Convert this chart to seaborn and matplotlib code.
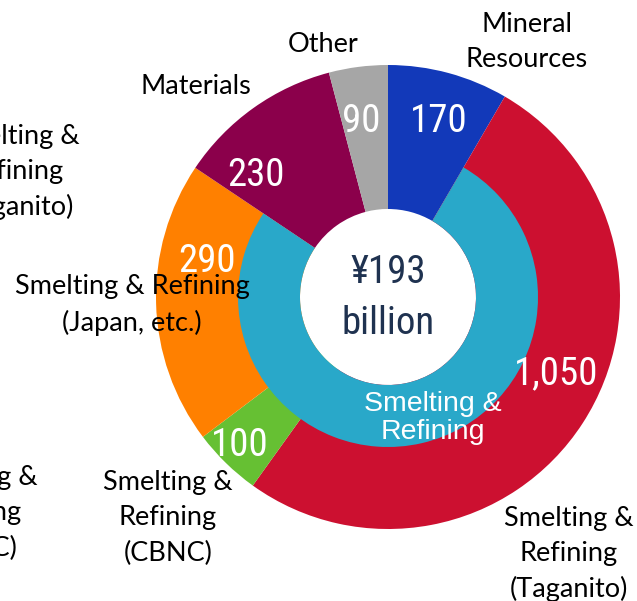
import matplotlib
matplotlib.use("Agg")
import matplotlib.pyplot as plt
from matplotlib import font_manager as fm
import seaborn as sns

# ---- data ----
segments = ["Mineral Resources", "Smelting & Refining (Taganito)",
            "Smelting & Refining (CBNC)", "Smelting & Refining (Japan, etc.)",
            "Materials", "Other"]
value_labels = ["170", "1,050", "100", "290", "230", "90"]
# share of the circle each sector occupies in the picture (%)
sector_share = [8.4, 51.5, 4.8, 19.7, 11.5, 4.1]
inner_groups = ["Mineral Resources", "Smelting & Refining", "Materials + Other"]
inner_share = [8.4, 76.0, 15.6]
total_label = "¥193\nbillion"

colors = ["#1239B9", "#CC1030", "#66C033", "#FF8000", "#8B004B", "#A6A6A6"]
teal = "#29A8C9"

sns.set_theme(style="white")
plt.rcParams["font.family"] = ["Lato", "DejaVu Sans"]

names = {f.name for f in fm.fontManager.ttflist}
cond = "Roboto"
for n in ["Roboto Condensed", "Liberation Sans Narrow", "Arial Narrow", "Open Sans Condensed"]:
    if n in names:
        cond = n
        break

W, H = 637, 601
fig = plt.figure(figsize=(W / 100, H / 100), dpi=100)
ax = fig.add_axes([0, 0, 1, 1])
ax.axis("off")

cx, cy = 388, H - 297
R_out, R_mid, R_in = 232, 150, 88

ax.pie(sector_share, colors=colors, startangle=90, counterclock=False,
       radius=R_out, center=(cx, cy),
       wedgeprops=dict(width=R_out - R_in, linewidth=0))
ax.pie(inner_share, colors=["none", teal, "none"], startangle=90, counterclock=False,
       radius=R_mid, center=(cx, cy),
       wedgeprops=dict(width=R_mid - R_in, linewidth=0))
ax.set_xlim(0, W)
ax.set_ylim(0, H)
ax.set_aspect("equal")


def py(y):
    return H - y


# value labels (white)
val_pos = {"170": (439, 122), "1,050": (556, 374), "100": (240, 445),
           "290": (207, 262), "230": (256, 175), "90": (361, 122)}
for lab in value_labels:
    x, y = val_pos[lab]
    ax.text(x, py(y), lab, color="white", fontsize=28, family=cond,
            ha="center", va="center")

# center total
ax.text(388, py(298), total_label, color="#1F3250", fontsize=28, family=cond,
        ha="center", va="center", linespacing=1.45)

# inner ring label
ax.text(433, py(418), "Smelting &\nRefining", color="white", fontsize=20.5,
        family=["Liberation Sans", "DejaVu Sans"], ha="center", va="center",
        linespacing=1.12)

# outer category labels
outer = [
    ("Mineral\nResources", 527, 42),
    ("Other", 323, 45),
    ("Materials", 196, 86),
    ("Smelting & Refining\n(Japan, etc.)", 132, 305),
    ("Smelting &\nRefining\n(CBNC)", 168, 518),
    ("Smelting &\nRefining\n(Taganito)", 569, 554),
    ("Smelting &\nRefining\n(Taganito)", 15, 172),
    ("Smelting &\nRefining\n(CBNC)", -27, 513),
]
for txt, x, y in outer:
    ax.text(x, py(y), txt, color="black", fontsize=19.5, ha="center", va="center",
            linespacing=1.5, clip_on=False)

fig.savefig("out.png", dpi=100)
